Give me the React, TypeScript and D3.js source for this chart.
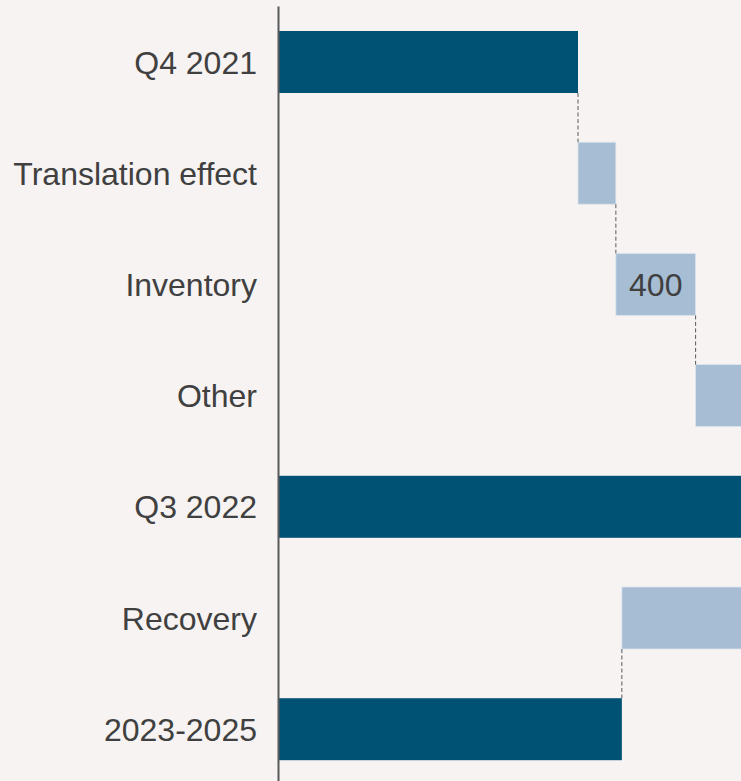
import React from "react";
import * as d3 from "d3";

const categories = ["Q4 2021", "Translation effect", "Inventory", "Other", "Q3 2022", "Recovery", "2023-2025"];
const values = [1500, 190, 400, 500, 2590, -870, 1720];
const isTotal = [true, false, false, false, true, false, true];
const valueLabels = ["", "", "400", "", "", "", ""];

const W = 741;
const H = 781;

export default function App() {
  const x = d3.scaleLinear().domain([0, 1500]).range([279, 578]);
  const y = d3.scaleBand<string>().domain(categories).range([6.4, 784.8]).paddingInner(0.4424).paddingOuter(0.2212);

  let running = 0;
  const bars = categories.map((c, i) => {
    let start: number, end: number;
    if (isTotal[i]) {
      start = 0;
      end = values[i];
      running = values[i];
    } else {
      start = running;
      end = running + values[i];
      running = end;
    }
    return { c, start, end, total: isTotal[i], label: valueLabels[i], endVal: running };
  });

  const connectors = bars.slice(0, -1).map((b, i) => {
    const next = categories[i + 1];
    return {
      xv: b.endVal,
      y1: (y(b.c) as number) + y.bandwidth(),
      y2: y(next) as number,
    };
  });

  const font = "'Liberation Sans', Arial, sans-serif";

  return (
    <svg width={W} height={H} style={{ position: "fixed", left: 0, top: 0, display: "block" }}>
      <rect x={0} y={0} width={W} height={H} fill="#F6F3F2" />
      {bars.map((b) => {
        const x0 = x(Math.min(b.start, b.end));
        const x1 = x(Math.max(b.start, b.end));
        return (
          <rect
            key={b.c}
            x={x0}
            y={y(b.c)}
            width={x1 - x0}
            height={y.bandwidth()}
            fill={b.total ? "#005275" : "#A7BDD4"}
            stroke={b.total ? "none" : "#DCE4EC"}
            strokeWidth={b.total ? 0 : 0.8}
          />
        );
      })}
      {connectors.map((c, i) => (
        <line
          key={i}
          x1={x(c.xv)}
          x2={x(c.xv)}
          y1={c.y1}
          y2={c.y2}
          stroke="#595959"
          strokeWidth={1}
          strokeDasharray="4,2.5"
        />
      ))}
      {bars.map((b) =>
        b.label ? (
          <text
            key={"l" + b.c}
            x={(x(b.start) + x(b.end)) / 2}
            y={(y(b.c) as number) + y.bandwidth() / 2}
            dy="0.36em"
            textAnchor="middle"
            fontFamily={font}
            fontSize={32}
            fill="#404040"
          >
            {b.label}
          </text>
        ) : null
      )}
      {categories.map((c) => (
        <text
          key={"c" + c}
          x={257}
          y={(y(c) as number) + y.bandwidth() / 2}
          dy="0.36em"
          textAnchor="end"
          fontFamily={font}
          fontSize={32}
          fill="#404040"
        >
          {c}
        </text>
      ))}
      <line x1={278.5} x2={278.5} y1={6.5} y2={H} stroke="#595959" strokeWidth={2} />
    </svg>
  );
}
